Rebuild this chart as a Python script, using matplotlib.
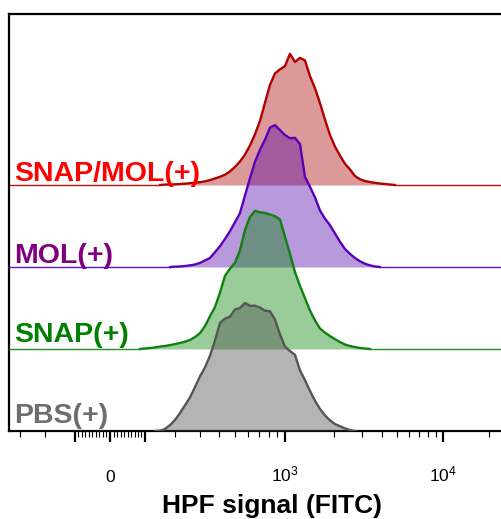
import numpy as np
import matplotlib
matplotlib.use('Agg')
import matplotlib.pyplot as plt
from matplotlib.transforms import blended_transform_factory

plt.rcParams['font.family'] = ['Liberation Sans', 'DejaVu Sans']
plt.rcParams['mathtext.fontset'] = 'custom'
plt.rcParams['mathtext.rm'] = 'Liberation Sans'
plt.rcParams['mathtext.it'] = 'Liberation Sans:italic'
plt.rcParams['mathtext.bf'] = 'Liberation Sans:bold'

# ---------------- data ----------------
samples = ['PBS(+)', 'SNAP(+)', 'MOL(+)', 'SNAP/MOL(+)']

fitc = [86, 100, 116, 131, 148, 164, 182, 199, 218, 238, 258, 279, 302, 326,
        351, 377, 406, 435, 467, 501, 537, 576, 617, 662, 709, 759, 814, 872,
        935, 1002, 1075, 1152, 1236, 1326, 1422, 1527, 1639, 1760, 1890, 2030,
        2181, 2344, 2520, 2709, 2913, 3133, 3370, 3626, 3902, 4199, 4519, 4866]

pbs = [0, 0, 0, 0, 0.004, 0.024, 0.073, 0.133, 0.218, 0.315, 0.41, 0.533,
       0.667, 0.776, 0.92, 1.1, 1.32, 1.37, 1.394, 1.48, 1.50, 1.56, 1.527,
       1.527, 1.505, 1.467, 1.46, 1.36, 1.18, 1.03, 0.975, 0.93, 0.74, 0.62,
       0.49, 0.37, 0.27, 0.19, 0.13, 0.085, 0.058, 0.032, 0.012, 0, 0, 0, 0,
       0, 0, 0, 0, 0]

snap = [0, 0.006, 0.012, 0.018, 0.03, 0.036, 0.048, 0.06, 0.073, 0.09, 0.11,
        0.145, 0.194, 0.28, 0.40, 0.51, 0.69, 0.89, 0.98, 1.05, 1.20, 1.45,
        1.61, 1.685, 1.667, 1.66, 1.64, 1.62, 1.58, 1.37, 1.16, 0.94, 0.77,
        0.62, 0.47, 0.35, 0.25, 0.2, 0.158, 0.12, 0.085, 0.055, 0.036, 0.024,
        0.012, 0.006, 0, 0, 0, 0, 0, 0]

mol = [0, 0, 0, 0, 0, 0, 0, 0.004, 0.006, 0.012, 0.02, 0.03, 0.05, 0.08,
       0.11, 0.18, 0.255, 0.34, 0.436, 0.545, 0.655, 0.87, 1.08, 1.285, 1.43,
       1.55, 1.70, 1.73, 1.67, 1.61, 1.57, 1.575, 1.5, 1.10, 0.98, 0.85, 0.69,
       0.59, 0.51, 0.41, 0.31, 0.22, 0.16, 0.11, 0.07, 0.04, 0.02, 0.006, 0,
       0, 0, 0]

snap_mol = [0, 0, 0, 0, 0, 0.005, 0.006, 0.008, 0.012, 0.016, 0.022, 0.028,
            0.034, 0.045, 0.06, 0.079, 0.10, 0.125, 0.165, 0.22, 0.285, 0.37,
            0.48, 0.62, 0.78, 1.0, 1.22, 1.36, 1.41, 1.45, 1.6, 1.5, 1.55,
            1.52, 1.33, 1.18, 1.0, 0.8, 0.61, 0.47, 0.36, 0.26, 0.19, 0.11,
            0.07, 0.048, 0.036, 0.026, 0.018, 0.012, 0.006, 0]

x_range = [-356, 23800]
major_ticks = [-100, 0, 100, 1000, 10000]
major_labels = ['', '0', '', r'$10^{3}$', r'$10^{4}$']
minor_ticks = [-300, -200, -90, -80, -70, -60, -50, -40, -30, -20, -10,
               10, 20, 30, 40, 50, 60, 70, 80, 90,
               200, 300, 400, 500, 600, 700, 800, 900,
               2000, 3000, 4000, 5000, 6000, 7000, 8000, 9000, 20000]
x_label = 'HPF signal (FITC)'

# ---------------- style ----------------
line_colors = ['#555555', '#108010', '#5a00b8', '#b00000']
base_colors = ['#666666', '#209020', '#6a10c8', '#cc1010']
fill_colors = ['#444444', '#008000', '#4e00a8', '#a80000']
text_colors = ['#6e6e6e', '#008000', '#800080', '#ff0000']
label_dy_px = [8, 7, 4, 4]
UNIT_PX = 82.0

# biexponential (logicle-like) display scale
BIEX_A, BIEX_P = 62.0, 1.97
_u = np.linspace(-4, 4, 40001)
_a = np.abs(_u)
_v = np.sign(_u) * BIEX_A * (10 ** _a - BIEX_P ** 2 * 10 ** (-_a / BIEX_P)
                              + BIEX_P ** 2 - 1)


def fwd(v):
    return np.interp(v, _v, _u)


def inv(u):
    return np.interp(u, _u, _v)


W, H = 501, 519
fig = plt.figure(figsize=(W / 100, H / 100), dpi=100)
ax = fig.add_axes([9 / W, 1 - 431 / H, 1 - 9 / W, (431 - 14) / H])
ax.set_xscale('function', functions=(fwd, inv))
ax.set_xlim(*x_range)
ax.set_ylim(0, (431 - 14) / UNIT_PX)

series = [pbs, snap, mol, snap_mol]
x = np.array(fitc, dtype=float)
for i in range(3, -1, -1):
    h = np.array(series[i], dtype=float)
    off = i
    z = 2 + (3 - i)
    ax.fill_between(x, off, off + h, color=fill_colors[i], alpha=0.4,
                    lw=0, zorder=z)
    nz = np.nonzero(h)[0]
    lo = max(nz[0] - 1, 0)
    hi = min(nz[-1] + 1, len(h) - 1)
    ax.plot(x[lo:hi + 1], off + h[lo:hi + 1], color=line_colors[i], lw=1.7,
            zorder=z + 0.5, solid_joinstyle='round')
    ax.plot([x_range[0], x[lo]], [off, off], color=base_colors[i], lw=1.0,
            zorder=z + 0.5)
    ax.plot([x[hi], x_range[1]], [off, off], color=base_colors[i], lw=1.0,
            zorder=z + 0.5)

trans = blended_transform_factory(ax.transAxes, ax.transData)
for i, name in enumerate(samples):
    ax.text(5 / 492, i + label_dy_px[i] / UNIT_PX, name, transform=trans,
            ha='left', va='baseline', fontsize=20.5, fontweight='bold',
            color=text_colors[i], zorder=10)

ax.set_xticks(major_ticks)
ax.set_xticklabels(major_labels)
ax.set_xticks(minor_ticks, minor=True)
ax.tick_params(axis='x', which='major', length=8, width=1.6, pad=28.5,
               labelsize=12.5, colors='black')
ax.tick_params(axis='x', which='minor', length=4, width=0.8)
for lab in ax.get_xticklabels():
    lab.set_verticalalignment('baseline')
ax.set_yticks([])

for s in ['left', 'top', 'bottom']:
    ax.spines[s].set_linewidth(1.6)
    ax.spines[s].set_color('black')
ax.spines['right'].set_visible(False)

ax.set_xlabel(x_label, fontsize=19, fontweight='bold')
ax.xaxis.label.set_verticalalignment('baseline')
ax.xaxis.set_label_coords((272 - 9) / 492, (431 - 513) / (431 - 14))

fig.savefig('out.png', dpi=100)
